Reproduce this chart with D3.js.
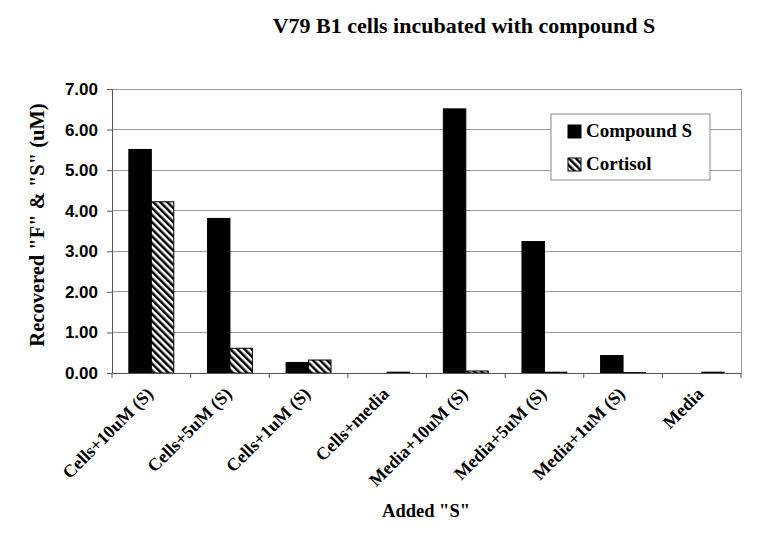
<!DOCTYPE html>
<html><head><meta charset="utf-8">
<script src="https://cdn.jsdelivr.net/npm/d3@7"></script>
<style>body{margin:0;background:#fff}</style>
</head><body>
<script>
const categories = ["Cells+10uM (S)","Cells+5uM (S)","Cells+1uM (S)","Cells+media","Media+10uM (S)","Media+5uM (S)","Media+1uM (S)","Media"];
const seriesNames = ["Compound S","Cortisol"];
const compoundS = [5.51, 3.81, 0.26, 0, 6.51, 3.24, 0.43, 0];
const cortisol = [4.22, 0.61, 0.32, 0.02, 0.05, 0.02, 0.01, 0.02];
const yTicks = [0,1,2,3,4,5,6,7];

const W = 761, H = 538;
const m = {left:112, right:20, top:89, bottom:165};
const serif = "'Liberation Serif', 'Times New Roman', serif";
const svg = d3.select("body").append("svg").attr("width",W).attr("height",H);

const defs = svg.append("defs");
const pat = defs.append("pattern").attr("id","hatch").attr("patternUnits","userSpaceOnUse")
  .attr("width",5).attr("height",5).attr("patternTransform","rotate(-45)");
pat.append("rect").attr("width",5).attr("height",5).attr("fill","#fff");
pat.append("rect").attr("x",0).attr("y",0).attr("width",2.5).attr("height",5).attr("fill","#000");

const x0 = d3.scaleBand().domain(categories).range([m.left, W-m.right]).paddingInner(0).paddingOuter(0);
const x1 = d3.scaleBand().domain(seriesNames).range([0, x0.bandwidth()]).paddingInner(0).paddingOuter(0.75);
const y = d3.scaleLinear().domain([0,7]).range([H-m.bottom, m.top]);

// gridlines
svg.append("g").selectAll("line").data(yTicks.filter(d=>d>0)).join("line")
  .attr("x1",m.left).attr("x2",W-m.right).attr("y1",d=>y(d)).attr("y2",d=>y(d))
  .attr("stroke","#999").attr("stroke-width",1).attr("shape-rendering","crispEdges");
svg.append("line").attr("x1",W-m.right).attr("x2",W-m.right).attr("y1",y(7)).attr("y2",y(0))
  .attr("stroke","#999").attr("shape-rendering","crispEdges");

// bars
const data = categories.map((c,i)=>({c, vals:[{s:"Compound S",v:compoundS[i]},{s:"Cortisol",v:cortisol[i]}]}));
const grp = svg.append("g").selectAll("g").data(data).join("g").attr("transform",d=>`translate(${x0(d.c)},0)`);
grp.selectAll("rect").data(d=>d.vals.filter(e=>e.v>0)).join("rect")
  .attr("x",e=>x1(e.s)).attr("width",x1.bandwidth())
  .attr("y",e=>y(e.v)).attr("height",e=>y(0)-y(e.v))
  .attr("fill",e=>e.s==="Compound S"?"#000":"url(#hatch)")
  .attr("stroke","#000").attr("stroke-width",1);

// axes
const yAxis = svg.append("g").attr("transform",`translate(${m.left},0)`)
  .call(d3.axisLeft(y).tickValues(yTicks).tickFormat(d3.format(".2f")).tickSize(5).tickSizeOuter(0));
yAxis.select(".domain").attr("stroke","#555");
yAxis.selectAll(".tick line").attr("stroke","#555");
yAxis.selectAll("text").attr("font-family","'Liberation Sans', Arial, sans-serif").attr("font-weight","bold")
  .attr("font-size",17).attr("fill","#000").attr("dx",-6);

const xAxis = svg.append("g").attr("transform",`translate(0,${y(0)})`)
  .call(d3.axisBottom(x0).tickValues([]).tickSizeOuter(0));
xAxis.select(".domain").attr("stroke","#555");
const bounds = categories.map((c)=>x0(c)).concat([W-m.right]);
xAxis.selectAll("line.tk").data(bounds).join("line").attr("class","tk")
  .attr("x1",d=>d).attr("x2",d=>d).attr("y1",0).attr("y2",5).attr("stroke","#555");
xAxis.selectAll("text.lbl").data(categories).join("text").attr("class","lbl")
  .attr("transform",d=>`translate(${x0(d)+x0.bandwidth()/2+3},${22}) rotate(-45)`)
  .attr("text-anchor","end")
  .attr("font-family",serif).attr("font-weight","bold")
  .attr("font-size",18).attr("fill","#000").text(d=>d);

// titles
svg.append("text").attr("x",464).attr("y",33).attr("text-anchor","middle")
  .attr("font-family",serif).attr("font-weight","bold")
  .attr("font-size",22).text("V79 B1 cells incubated with compound S");
svg.append("text").attr("transform",`translate(44,225) rotate(-90)`).attr("text-anchor","middle")
  .attr("font-family",serif).attr("font-weight","bold")
  .attr("font-size",20.5).text('Recovered "F" & "S" (uM)');
svg.append("text").attr("x",426).attr("y",517).attr("text-anchor","middle")
  .attr("font-family",serif).attr("font-weight","bold")
  .attr("font-size",18.5).text('Added "S"');

// legend
const lg = svg.append("g").attr("transform","translate(551,114)");
lg.append("rect").attr("width",159).attr("height",66).attr("fill","#fff").attr("stroke","#888");
seriesNames.forEach((s,i)=>{
  const yy = 23 + i*33;
  lg.append("rect").attr("x",17).attr("y",yy-12).attr("width",13).attr("height",13)
    .attr("fill",i===0?"#000":"url(#hatch)").attr("stroke","#000");
  lg.append("text").attr("x",35).attr("y",yy).attr("font-family",serif)
    .attr("font-weight","bold").attr("font-size",19).text(s);
});
</script>
</body></html>
